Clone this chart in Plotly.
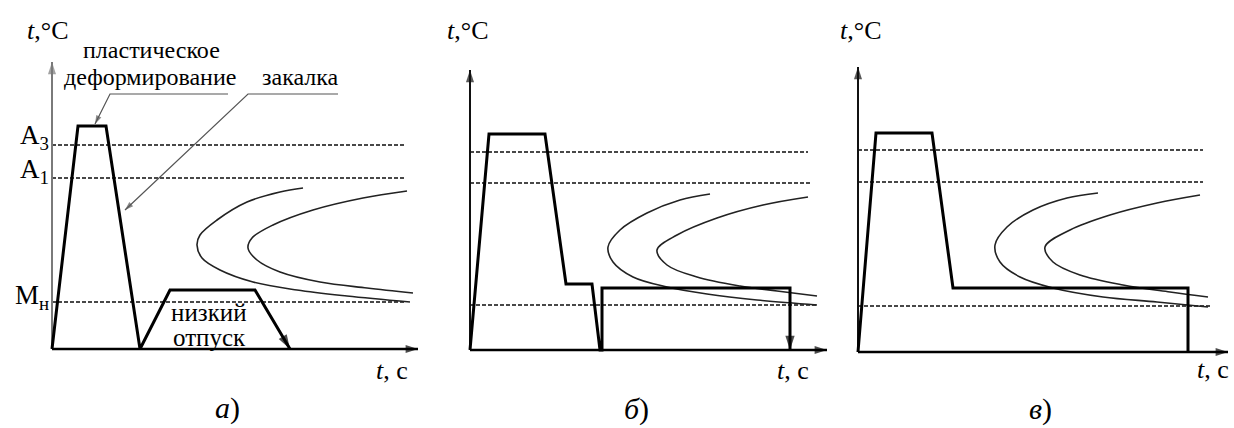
import plotly.graph_objects as go

FONT = "Liberation Serif"

# ---------------- panel a) (time, temperature in arbitrary units) ----------------
a_axis_t_max = 366
a_axis_T_max = 287
a_A3, a_A1, a_Mn = 204, 171, 47
a_level_end = [353, 353, 353]
a_path_t = [0, 26, 54, 88, 118, 203, 238]
a_path_T = [0, 223, 223, 0, 59, 59, 0]
a_c1_t = [251, 228, 195, 165, 148, 145, 150, 168, 201, 245, 295, 358]
a_c1_T = [161, 157, 147, 129, 114, 104, 91, 79, 67, 59, 53, 47]
a_c2_t = [355, 311, 261, 221, 200, 196, 205, 228, 268, 315, 361]
a_c2_T = [158, 151, 139, 124, 111, 101, 89, 77, 67, 61, 56]
a_lead1_t = [176, 58, 43]
a_lead1_T = [255, 255, 225]
a_lead2_t = [286, 196, 73]
a_lead2_T = [255, 255, 139]

# ---------------- panel б) ----------------
b_axis_t_max = 357
b_axis_T_max = 280
b_A3, b_A1, b_Mn = 198, 167, 45
b_level_end = [338, 342, 347]
b_path_t = [0, 19, 75, 96, 122, 130, 132, 132, 320, 320]
b_path_T = [0, 216, 216, 66, 66, 0, 0, 62, 62, 0]
b_c1_t = [240, 210, 177, 150, 138, 143, 163, 197, 237, 287, 347]
b_c1_T = [156, 150, 137, 120, 103, 88, 73, 63, 56, 50, 45]
b_c2_t = [338, 293, 247, 207, 187, 197, 227, 270, 307, 347]
b_c2_T = [153, 145, 132, 115, 100, 85, 73, 64, 59, 54]

# ---------------- panel в) ----------------
c_axis_t_max = 370
c_axis_T_max = 285
c_A3, c_A1, c_Mn = 202, 170, 46
c_level_end = [345, 345, 352]
c_path_t = [0, 18, 74, 95, 330, 330]
c_path_T = [0, 219, 219, 64, 64, 0]
c_c1_t = [240, 209, 175, 149, 137, 142, 162, 195, 245, 299, 350]
c_c1_T = [159, 154, 142, 125, 107, 90, 75, 64, 55, 50, 45]
c_c2_t = [342, 299, 252, 212, 187, 195, 222, 265, 312, 350]
c_c2_T = [157, 149, 137, 122, 105, 90, 77, 67, 60, 55]

# text
y_label = "<i>t</i>,°C"
x_label = "<i>t</i>, с"
captions = ["<i>а</i>)", "<i>б</i>)", "<i>в</i>)"]
level_names = ["A<sub>3</sub>", "A<sub>1</sub>", "M<sub>н</sub>"]

fig = go.Figure()


def add_line(xr, yr, t, T, width=2, color="black", dash=None, shape="linear", arrow_end=False, size=13):
    line = dict(color=color, width=width, shape=shape)
    if dash:
        line["dash"] = dash
    if shape == "spline":
        line["smoothing"] = 1.0
    kw = dict(x=t, y=T, xaxis=xr, yaxis=yr, mode="lines", line=line,
              hoverinfo="skip", showlegend=False, cliponaxis=False)
    fig.add_trace(go.Scatter(**kw))
    if arrow_end:
        fig.add_trace(go.Scatter(
            x=t[-2:], y=T[-2:], xaxis=xr, yaxis=yr, mode="markers",
            marker=dict(symbol=["circle", "arrow"], size=[0, size], angleref="previous",
                        color=color, line=dict(width=0)),
            hoverinfo="skip", showlegend=False, cliponaxis=False))


panels = [
    ("x", "y", a_axis_t_max, a_axis_T_max, [a_A3, a_A1, a_Mn], a_level_end,
     a_path_t, a_path_T, a_c1_t, a_c1_T, a_c2_t, a_c2_T, True, "#7a7a7a"),
    ("x2", "y2", b_axis_t_max, b_axis_T_max, [b_A3, b_A1, b_Mn], b_level_end,
     b_path_t, b_path_T, b_c1_t, b_c1_T, b_c2_t, b_c2_T, True, "#111111"),
    ("x3", "y3", c_axis_t_max, c_axis_T_max, [c_A3, c_A1, c_Mn], c_level_end,
     c_path_t, c_path_T, c_c1_t, c_c1_T, c_c2_t, c_c2_T, False, "#111111"),
]

for (xr, yr, tmax, Tmax, levels, lend, pt, pT, c1t, c1T, c2t, c2T, parrow, ycol) in panels:
    # dashed critical temperature levels
    for lv, e in zip(levels, lend):
        add_line(xr, yr, [0, e], [lv, lv], width=2, color="#484848", dash="4px,2px")
    # C-curves
    add_line(xr, yr, c1t, c1T, width=1.6, color="#222222", shape="spline")
    add_line(xr, yr, c2t, c2T, width=1.6, color="#222222", shape="spline")
    # axes with arrows
    add_line(xr, yr, [0, 0], [0, Tmax], width=2, color=ycol, arrow_end=True, size=13)
    add_line(xr, yr, [0, tmax], [0, 0], width=2.5, color="black", arrow_end=True, size=13)
    # heat treatment path
    add_line(xr, yr, pt, pT, width=3, color="black", arrow_end=parrow, size=15)

# leader lines panel a
add_line("x", "y", a_lead1_t, a_lead1_T, width=1.2, color="#555555", arrow_end=True, size=9)
add_line("x", "y", a_lead2_t, a_lead2_T, width=1.2, color="#555555", arrow_end=True, size=9)

ann = []


def txt(xr, yr, x, y, text, size=24, xanchor="center", yanchor="middle"):
    ann.append(dict(xref=xr, yref=yr, x=x, y=y, text=text, showarrow=False,
                    xanchor=xanchor, yanchor=yanchor,
                    font=dict(family=FONT, size=size, color="black")))


# panel a texts
txt("x", "y", -5, 319, y_label, 26)
txt("x", "y", 99, 299, "пластическое", 24)
txt("x", "y", 98, 272, "деформирование", 24)
txt("x", "y", 248, 272, "закалка", 24)
txt("x", "y", -1, 212, level_names[0], 27, xanchor="right")
txt("x", "y", -1, 178, level_names[1], 27, xanchor="right")
txt("x", "y", -1, 52, level_names[2], 27, xanchor="right")
txt("x", "y", 157, 37, "низкий", 25)
txt("x", "y", 157, 12, "отпуск", 25)
txt("x", "y", 340, -21, x_label, 26)
txt("x", "y", 175, -59, captions[0], 30)
# panel б texts
txt("x2", "y2", -3, 320, y_label, 26)
txt("x2", "y2", 323, -20, x_label, 26)
txt("x2", "y2", 166, -59, captions[1], 30)
# panel в texts
txt("x3", "y3", 2, 322, y_label, 26)
txt("x3", "y3", 355, -17, x_label, 26)
txt("x3", "y3", 182, -57, captions[2], 30)

W = 1234.0
ax_common = dict(visible=False, fixedrange=True, showgrid=False, zeroline=False)
fig.update_layout(
    width=1234, height=428, autosize=False,
    margin=dict(l=0, r=0, t=0, b=0, pad=0),
    paper_bgcolor="white", plot_bgcolor="rgba(0,0,0,0)",
    showlegend=False,
    font=dict(family=FONT),
    annotations=ann,
    xaxis=dict(domain=[0, 420 / W], range=[-52, 368], anchor="y", **ax_common),
    yaxis=dict(domain=[0, 1], range=[-79, 349], anchor="x", **ax_common),
    xaxis2=dict(domain=[420 / W, 830 / W], range=[-50, 360], anchor="y2", **ax_common),
    yaxis2=dict(domain=[0, 1], range=[-78, 350], anchor="x2", **ax_common),
    xaxis3=dict(domain=[830 / W, 1.0], range=[-28, 376], anchor="y3", **ax_common),
    yaxis3=dict(domain=[0, 1], range=[-76, 352], anchor="x3", **ax_common),
)

fig.write_html("out.html", config={"displayModeBar": False},
               post_script="document.body.style.margin='0';document.body.style.overflow='hidden';")
